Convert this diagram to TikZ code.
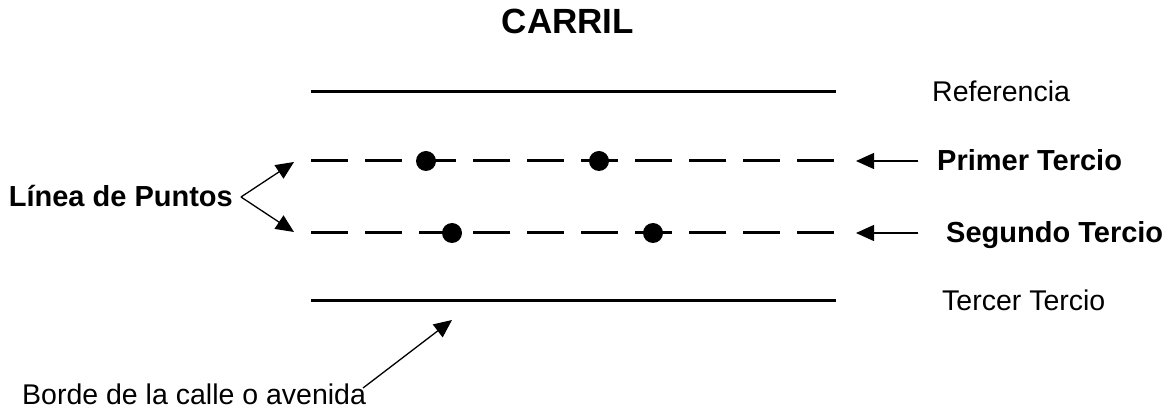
\documentclass[tikz,border=0pt]{standalone}
\usepackage{fontspec}
\setmainfont{Liberation Sans}
\usetikzlibrary{arrows.meta,positioning}
\tikzstyle{tag} = [inner sep=0pt, font=\fontsize{28.5}{33}\selectfont]
\tikzstyle{boldtag} = [inner sep=0pt, font=\bfseries\fontsize{29}{34}\selectfont]
\tikzstyle{title} = [inner sep=0pt, font=\bfseries\fontsize{35}{42}\selectfont]
\tikzstyle{edge} = [line width=3pt]
\tikzstyle{dotline} = [line width=3pt, dash pattern=on 37pt off 17pt]
\tikzstyle{dot} = [circle, fill=black, minimum size=20pt, inner sep=0pt]
\tikzstyle{arrow} = [line width=1.3pt, -{Triangle[length=18pt,width=16pt]}]

\begin{document}
\begin{tikzpicture}[x=1pt,y=-1pt]
\useasboundingbox (0,0) rectangle (1171,411);
% title
\node[title, anchor=base] (carril) at (568,34) {CARRIL};

% lane lines
\coordinate (refL) at (311,92);   \coordinate (refR) at (836,92);
\coordinate (firstL) at (311,161); \coordinate (firstR) at (836,161);
\coordinate (secondL) at (311,233); \coordinate (secondR) at (836,233);
\coordinate (thirdL) at (311,301); \coordinate (thirdR) at (836,301);
\draw[edge] (refL) -- (refR);
\draw[dotline] (firstL) -- (firstR);
\draw[dotline] (secondL) -- (secondR);
\draw[edge] (thirdL) -- (thirdR);

% points
\node[dot] (dotA) at (426,161) {};
\node[dot] (dotB) at (599,161) {};
\node[dot] (dotC) at (452,233) {};
\node[dot] (dotD) at (653,233) {};

% right labels
\node[tag, anchor=base west] (referencia) at (932,102) {Referencia};
\node[boldtag, anchor=base west] (primer) at (937,171) {Primer Tercio};
\node[boldtag, anchor=base west] (segundo) at (946,243) {Segundo Tercio};
\node[tag, anchor=base west] (tercer) at (942,311) {Tercer Tercio};
\coordinate (primerTail) at (918,161);   \coordinate (primerTip) at (856,161);
\coordinate (segundoTail) at (918,233);  \coordinate (segundoTip) at (856,233);
\draw[arrow] (primerTail) -- (primerTip);
\draw[arrow] (segundoTail) -- (segundoTip);

% left label
\node[boldtag, anchor=base east] (puntos) at (233,207) {Línea de Puntos};
\coordinate (puntosTip) at (241,197);
\coordinate (upTip) at (294,162);
\coordinate (downTip) at (294,232);
\draw[arrow] (puntosTip) -- (upTip);
\draw[arrow] (puntosTip) -- (downTip);

% bottom label
\node[tag, anchor=base west] (borde) at (22,405) {Borde de la calle o avenida};
\coordinate (bordeTail) at (363,388);
\coordinate (bordeTip) at (452,320);
\draw[arrow] (bordeTail) -- (bordeTip);
\end{tikzpicture}
\end{document}
